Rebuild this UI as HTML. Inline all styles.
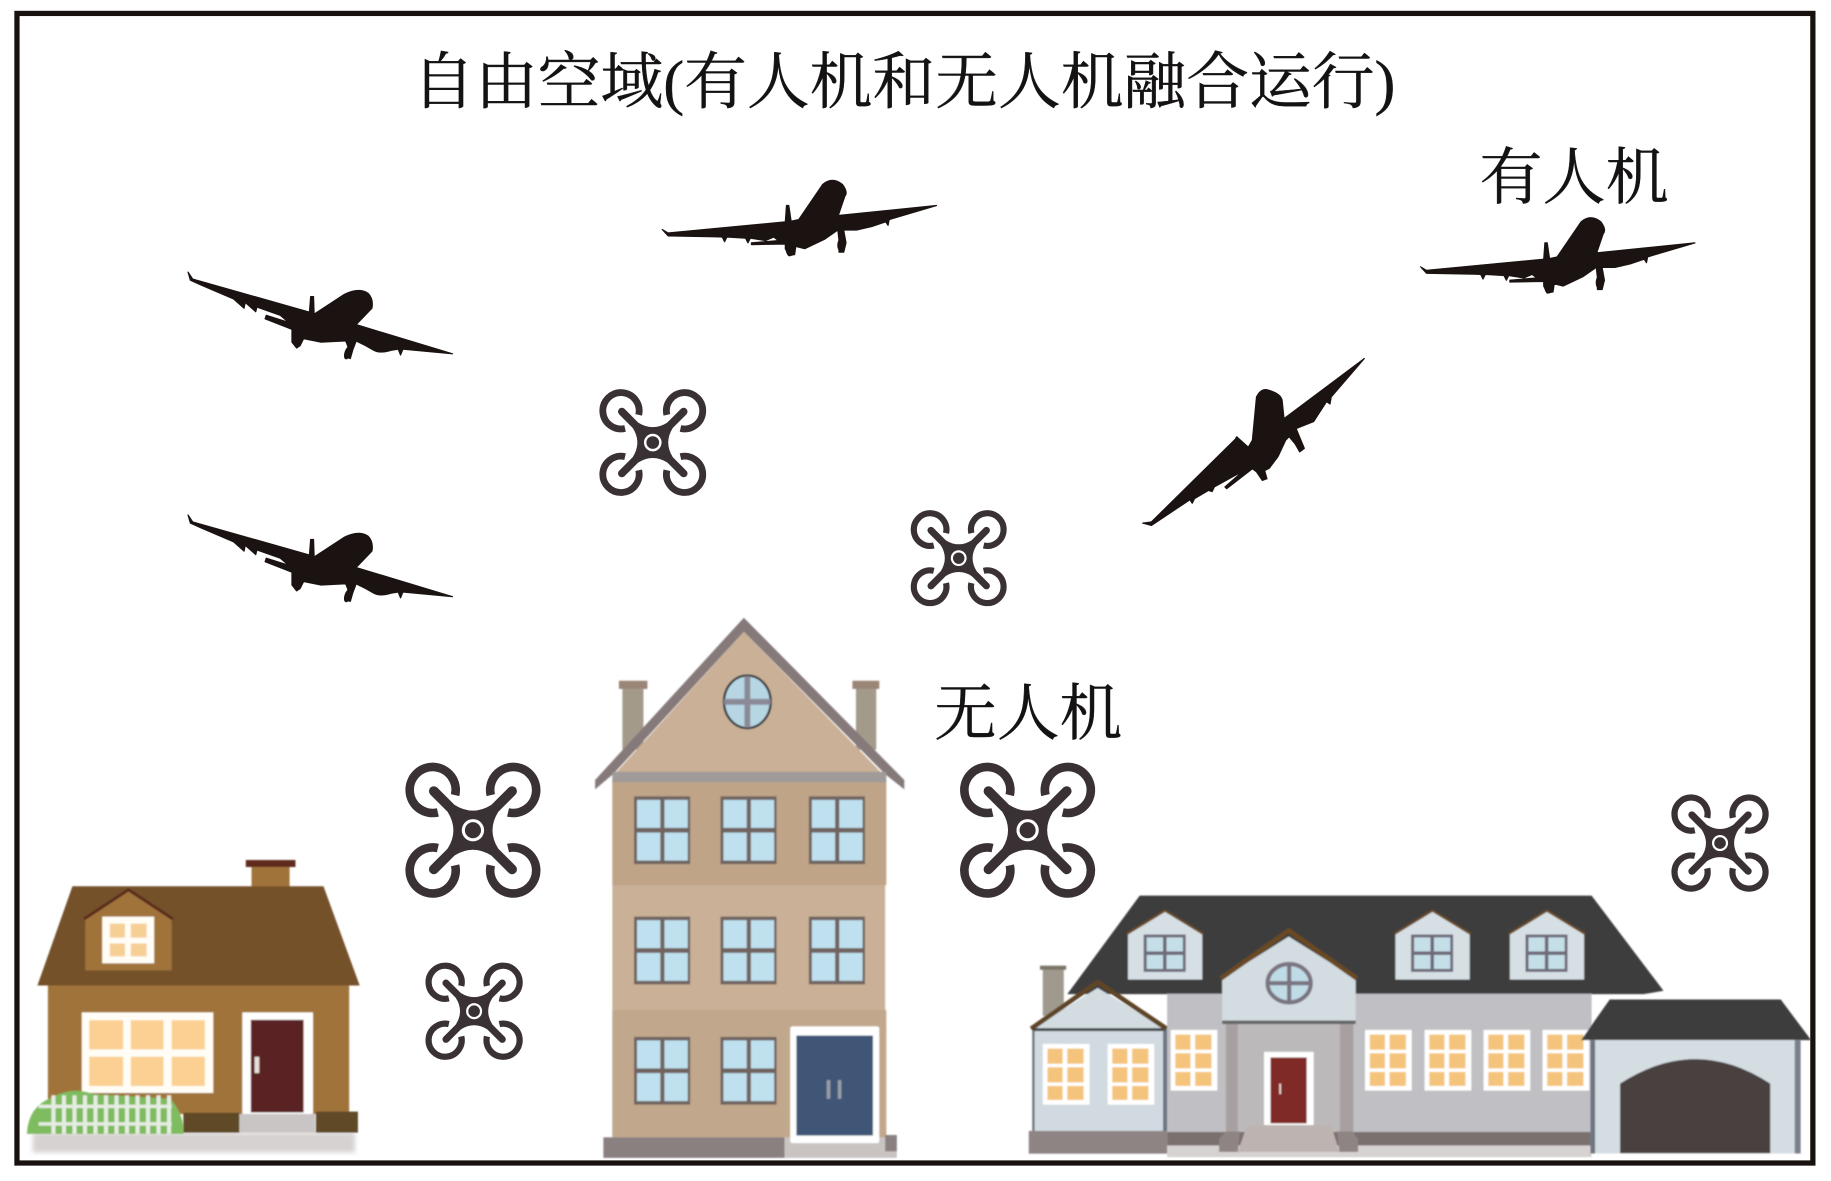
<!DOCTYPE html>
<html><head><meta charset="utf-8"><style>
html,body{margin:0;padding:0;background:#fff}
svg{display:block}
text{font-family:"Liberation Serif","Noto Serif CJK SC",serif;fill:#141212;stroke:#141212;stroke-width:.35}
</style></head><body>
<svg width="1831" height="1181" viewBox="0 0 1568 1011.4" xmlns="http://www.w3.org/2000/svg">
<defs>
<filter id="b" x="-5%" y="-5%" width="110%" height="110%"><feGaussianBlur stdDeviation="0.6"/></filter>
<filter id="b2" x="-5%" y="-20%" width="110%" height="140%"><feGaussianBlur stdDeviation="2"/></filter>
<g id="drone"><g transform="scale(.985)">
<g fill="none" stroke="#3a3135" stroke-width="7.500">
<path d="M-15.5,-30.5A20,20 0 1 0 -30.5,-15.5"/>
<path d="M15.5,-30.5A20,20 0 1 1 30.5,-15.5"/>
<path d="M-15.5,30.5A20,20 0 1 1 -30.5,15.5"/>
<path d="M15.5,30.5A20,20 0 1 0 30.5,15.5"/>
</g>
<g stroke="#3a3135" stroke-width="8.500" stroke-linecap="round">
<line x1="-34" y1="-34" x2="34" y2="34"/><line x1="34" y1="-34" x2="-34" y2="34"/>
</g>
<path d="M-16,-22Q0,-12 16,-22L22,-16Q12,0 22,16L16,22Q0,12 -16,22L-22,16Q-12,0 -22,-16Z" fill="#3a3135"/>
<circle r="9.700" fill="#fff"/><circle r="7" fill="#3a3135"/>
</g></g>
<g id="pl1">
<path d="M161,233L165,239L264,267L265,267L266,254L268.500,254L269,269L295,252Q307,246 315,251Q320,256 318.500,264L305,278L387.500,303L345,299L343,304L341,299L335,300Q325,303 320,300L313,296L305,292L302,300L300,307L296,306L298,297L296,292L275,293L260,290L257,296L254,298L250,293L250,282L227,273L228,270L247,276L240,270L220,263L219,267L210,259L209,264L200,256L172,244L163,240Z" fill="#1a1311" stroke="#1a1311" stroke-width="1" stroke-linejoin="round"/>
<ellipse cx="298" cy="302" rx="3" ry="6" transform="rotate(20 298 302)" fill="#1a1311"/>
<ellipse cx="255" cy="291" rx="3.500" ry="6" fill="#1a1311"/>
</g>
<g id="pl3">
<path d="M1216.600,228.500L1221.600,231.500L1322,222L1323,208L1325,208L1327,221.400L1333.500,220L1354,190Q1362,183 1371,190Q1376,197 1373,200L1367.400,216.500L1451.500,208L1411,220L1410,225L1408,222L1396,226L1383,229L1375,229L1372,229L1374,240L1372,248L1368,248L1368,238L1367,229L1355.500,237L1338.600,245L1331,243L1330,250L1325,251L1322,245L1322,241L1293,241.500L1293,240L1316,238L1312,235L1305,238L1292,236L1290,240L1288,236L1272,235L1270,239L1268,235L1262,234.800L1221.600,234Z" fill="#1a1311" stroke="#1a1311" stroke-width="1" stroke-linejoin="round"/>
<ellipse cx="1370" cy="242" rx="3.500" ry="6" fill="#1a1311"/>
<ellipse cx="1326" cy="246" rx="3.500" ry="5.500" fill="#1a1311"/>
</g>
<g id="win"><rect width="48" height="58" fill="#6f6360"/><rect x="2.500" y="3" width="20" height="24" fill="#bfe0ee"/><rect x="26" y="3" width="20" height="24" fill="#bfe0ee"/><rect x="2.500" y="31" width="20" height="24" fill="#bfe0ee"/><rect x="26" y="31" width="20" height="24" fill="#bfe0ee"/></g>
<g id="lw"><rect width="40" height="52" fill="#fff"/><g fill="#f5c47c"><rect x="4" y="4" width="13" height="13"/><rect x="21" y="4" width="14" height="13"/><rect x="4" y="20" width="13" height="13"/><rect x="21" y="20" width="14" height="13"/><rect x="4" y="36" width="13" height="12"/><rect x="21" y="36" width="14" height="12"/></g></g>
<g id="dm"><path d="M0,18.600L31.700,0L63.600,18.600V58H0Z" fill="#d5dfe4"/><path d="M-1,19L31.700,-1L64.500,19" fill="none" stroke="#6b4a22" stroke-width="2"/><rect x="13.400" y="19.500" width="36" height="32" fill="#6e6a78"/><rect x="16" y="22" width="14" height="12" fill="#c5dfe8"/><rect x="33" y="22" width="14" height="12" fill="#c5dfe8"/><rect x="16" y="37" width="14" height="12" fill="#c5dfe8"/><rect x="33" y="37" width="14" height="12" fill="#c5dfe8"/></g>
</defs>

<rect width="1568" height="1011.4" fill="#fff"/>
<rect x="14.500" y="11.500" width="1538" height="984.500" fill="none" stroke="#17120f" stroke-width="4.500"/>

<text x="353" y="88" font-size="53" textLength="842" lengthAdjust="spacingAndGlyphs">自由空域(有人机和无人机融合运行)</text>
<text x="1267" y="170" font-size="53" textLength="162" lengthAdjust="spacingAndGlyphs">有人机</text>
<text x="800" y="629" font-size="53" textLength="161" lengthAdjust="spacingAndGlyphs">无人机</text>

<use href="#pl1"/>
<use href="#pl1" transform="translate(0,208)"/>
<use href="#pl3"/>
<use href="#pl3" transform="translate(-649.500,-32)"/>
<path d="M978.600,448L986,447L1058,376L1059,374L1069,383L1072.500,377L1076,340Q1080,332 1086,334Q1097,337 1098,343L1099.600,358.500L1168.400,307L1140,340L1139,346L1136,344L1125,361L1115,365L1110,367L1112,372L1117,384L1113,387L1109,380L1104,374L1101,377L1094.500,391L1087,401L1083,403L1085,410L1081,411.400L1076,404L1072.500,401.500L1050.500,418.500L1049,417L1064,404L1058,407L1040,417L1038,421L1035,420L1023,427L1021,431L1019,428L986,450Z" fill="#1a1311" stroke="#1a1311" stroke-width="1" stroke-linejoin="round"/>

<use href="#drone" transform="translate(405,711)"/>
<use href="#drone" transform="translate(880,711)"/>
<use href="#drone" transform="translate(559,379) scale(.79)"/>
<use href="#drone" transform="translate(821,478) scale(.71)"/>
<use href="#drone" transform="translate(406,866) scale(.72)"/>
<use href="#drone" transform="translate(1473,722) scale(.72)"/>

<!-- small house -->
<g filter="url(#b)">
<rect x="28" y="970" width="276" height="17" fill="#d6d2d0" filter="url(#b2)"/>
<rect x="215.400" y="742" width="32.600" height="18" fill="#a0733a"/>
<rect x="210.500" y="736.500" width="42.500" height="6" fill="#5e2a1e"/>
<rect x="41" y="843" width="258" height="111" fill="#a0733a"/>
<path d="M62,759H277L308,844H32Z" fill="#74512a"/>
<path d="M73,787L110,763L147,787V831H73Z" fill="#a0733a"/>
<path d="M72,787L110,762L148,787" fill="none" stroke="#5a2c1a" stroke-width="2.500"/>
<rect x="87.500" y="785" width="44.500" height="40" fill="#fffdf6"/>
<g fill="#f6cf95"><rect x="94" y="791" width="13" height="12"/><rect x="112" y="791" width="13.500" height="12"/><rect x="94" y="808" width="13" height="11"/><rect x="112" y="808" width="13.500" height="11"/></g>
<rect x="70" y="867" width="112.600" height="69" fill="#fffdf6"/>
<g fill="#fbd092"><rect x="76.400" y="873.700" width="29" height="25"/><rect x="112" y="873.700" width="28" height="25"/><rect x="147" y="873.700" width="28.400" height="25"/><rect x="76.400" y="905" width="29" height="25"/><rect x="112" y="905" width="28" height="25"/><rect x="147" y="905" width="28.400" height="25"/></g>
<rect x="207.500" y="867" width="60.500" height="87" fill="#fff"/>
<rect x="214.800" y="873.400" width="45.200" height="79.300" fill="#5a2020"/>
<rect x="218" y="905" width="4" height="14" fill="#e6e0d8"/>
<rect x="157" y="953" width="48" height="17" fill="#5f4826"/>
<rect x="270.500" y="952" width="36" height="18" fill="#5f4826"/>
<rect x="205" y="954" width="65" height="16" fill="#c9c5c4"/>
<path d="M23,971Q24,948 44,940Q62,930 80,937L146,941Q158,955 157,971Z" fill="#7ebc5e"/>
<g fill="#e5ece2"><rect x="44" y="938" width="3.500" height="33"/><rect x="53" y="938" width="3.500" height="33"/><rect x="62" y="938" width="3.500" height="33"/><rect x="71" y="938" width="3.500" height="33"/><rect x="80" y="938" width="3.500" height="33"/><rect x="89" y="938" width="3.500" height="33"/><rect x="98" y="938" width="3.500" height="33"/><rect x="107" y="938" width="3.500" height="33"/><rect x="116" y="938" width="3.500" height="33"/><rect x="125" y="938" width="3.500" height="33"/><rect x="134" y="938" width="3.500" height="33"/><rect x="143" y="938" width="3.500" height="33"/><rect x="33" y="946" width="114" height="3"/><rect x="33" y="961" width="114" height="3"/></g>
</g>

<!-- tall building -->
<g filter="url(#b)">
<rect x="533" y="590" width="18" height="52" fill="#a39a8a"/><rect x="530" y="583" width="24.400" height="7" fill="#9a8576"/>
<rect x="733" y="590" width="17.400" height="52" fill="#a39a8a"/><rect x="730" y="583" width="23" height="7" fill="#9a8576"/>
<path d="M637,541L758,665V974H524.400V665Z" fill="#c9b096"/>
<rect x="524.400" y="669" width="234.600" height="89" fill="#bfa487"/>
<rect x="524.400" y="865" width="234.600" height="109" fill="#c1a78b"/>
<path d="M637,529L774.400,668V676L758,663L637,541L525,663L509.600,676V668Z" fill="#85797a"/>
<rect x="524.400" y="661" width="234.600" height="9" fill="#a09a98"/>
<ellipse cx="640" cy="601" rx="20" ry="22.500" fill="#b6d6e4" stroke="#33353a" stroke-width="2"/>
<path d="M640,579V623M620,601H660" stroke="#8a8a96" stroke-width="5" fill="none"/>
<use href="#win" x="543" y="682"/><use href="#win" x="617" y="682"/><use href="#win" x="692.700" y="682"/>
<use href="#win" x="543" y="785"/><use href="#win" x="617" y="785"/><use href="#win" x="692.700" y="785"/>
<use href="#win" x="543" y="888"/><use href="#win" x="617" y="888"/>
<rect x="516.700" y="974" width="155.300" height="17.600" fill="#8b8080"/>
<rect x="672" y="974" width="96" height="17.600" fill="#c9c4c2"/>
<rect x="758" y="972" width="10" height="14" fill="#8b8080"/>
<rect x="676.700" y="879" width="76.300" height="100" rx="2" fill="#fff"/>
<rect x="682" y="886.800" width="65.600" height="85.700" fill="#3f5677"/>
<rect x="708" y="925" width="3" height="16" fill="#9a9ea6"/><rect x="717.500" y="925" width="3" height="16" fill="#9a9ea6"/>
</g>

<!-- large house -->
<g filter="url(#b)">
<rect x="893" y="830" width="18" height="40" fill="#a09a8e"/><rect x="890.600" y="827" width="22.400" height="3.500" fill="#7d7568"/>
<path d="M976,767H1363L1424.600,848.500L1407.600,851.400H914Z" fill="#3d3d3d"/>
<rect x="999.500" y="851" width="363.500" height="119" fill="#c0c0c4"/>
<rect x="999.500" y="969.400" width="363.500" height="11.600" fill="#7a6f6e"/>
<rect x="999.500" y="981" width="363.500" height="10" fill="#d6d2d1"/>
<use href="#dm" x="966" y="780.800"/><use href="#dm" x="1195" y="780.800"/><use href="#dm" x="1293" y="780.800"/>
<use href="#lw" x="1002.500" y="882"/><use href="#lw" x="1169" y="882"/><use href="#lw" x="1220" y="882"/><use href="#lw" x="1270.500" y="882"/><use href="#lw" x="1321" y="882"/>
<rect x="1049" y="876" width="110" height="93" fill="#bcb9ba"/>
<rect x="1050" y="876" width="10" height="93" fill="#a8a0a0"/><rect x="1147.500" y="876" width="11.500" height="93" fill="#a8a0a0"/>
<path d="M1103.600,802L1161,838V874H1046.600V838Z" fill="#d2dce1"/>
<path d="M1045.500,838L1103.600,797L1162,838" fill="none" stroke="#6b4a22" stroke-width="4"/>
<rect x="1046.600" y="874" width="114.400" height="3" fill="#666"/>
<ellipse cx="1104" cy="842" rx="18.500" ry="16.500" fill="#bfdbe6" stroke="#7a7580" stroke-width="3.500"/>
<path d="M1104,826V858M1086,842H1122" stroke="#7a7580" stroke-width="3.500"/>
<rect x="1082.500" y="900.800" width="42.500" height="62.800" fill="#fff"/>
<rect x="1088" y="905.600" width="31" height="56.400" fill="#7f2c26"/>
<rect x="1095.500" y="928" width="1.500" height="9" fill="#e8dfd8"/>
<path d="M1068,963.600H1140L1147,986.500H1060Z" fill="#bdb3b1"/>
<path d="M1050,969H1062L1060,986.500H1044V975ZM1145,969H1158L1163,975V986.500H1147Z" fill="#8f8484"/>
<rect x="884" y="881" width="115.500" height="88" fill="#d0dae0"/>
<rect x="884" y="881" width="2" height="88" fill="#6d7480"/><rect x="996" y="881" width="3.500" height="88" fill="#6d7480"/>
<path d="M940,846L998,881H884Z" fill="#d2dce1"/>
<path d="M883,881L940,841L999,881" fill="none" stroke="#5e4526" stroke-width="4"/>
<rect x="885" y="880.500" width="112" height="2.500" fill="#44464c"/>
<use href="#lw" x="893" y="894"/><use href="#lw" x="948.500" y="894"/>
<rect x="881" y="968.500" width="118.500" height="19.500" fill="#8f8484"/>
<path d="M1378.500,856H1525L1551,890.800H1354Z" fill="#3d3d3d"/>
<rect x="1362" y="890.800" width="180" height="97" fill="#d3dde2"/>
<rect x="1362" y="890.800" width="4" height="97" fill="#6d7480"/><rect x="1537" y="890.800" width="5" height="97" fill="#7a7f8a"/>
<path d="M1387.400,987.500V928Q1452,886 1516,928V987.500Z" fill="#4a3f3f"/>
</g>
</svg>
</body></html>
